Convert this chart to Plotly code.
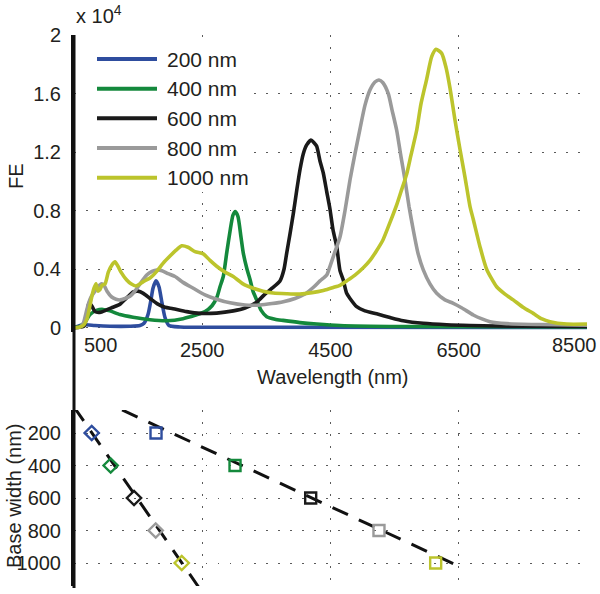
import plotly.graph_objects as go

# ---------------- data ----------------
series_names = ["200 nm", "400 nm", "600 nm", "800 nm", "1000 nm"]
series_colors = ["#2e4d9e", "#14893c", "#1a1a1a", "#9a9a9a", "#bcc42c"]

wl_200 = [500, 594, 687, 828, 1061, 1373, 1529, 1592, 1654, 1700, 1732, 1779, 1825, 1872, 1919, 1981, 2153, 3245, 8500]
fe_200 = [0, 150, 200, 150, 100, 100, 150, 300, 900, 1900, 2700, 3200, 2800, 1700, 700, 150, 50, 30, 20]

wl_400 = [500, 594, 672, 750, 859, 952, 1061, 1217, 1420, 1685, 1950, 2200, 2387, 2543, 2652, 2730, 2777, 2828, 2881,
          2933, 2979, 3015, 3057, 3104, 3140, 3198, 3245, 3291, 3349, 3416, 3505, 3634, 3759, 4024, 4285, 4648, 5584, 8500]
fe_400 = [0, 100, 400, 900, 1200, 1250, 1150, 900, 720, 550, 480, 620, 850, 1100, 1500, 2100, 2800, 3500, 5100,
          6600, 7700, 7950, 7600, 6200, 5100, 4000, 3300, 2500, 1900, 1200, 750, 580, 500, 350, 250, 150, 80, 50]

wl_600 = [500, 656, 703, 734, 776, 828, 905, 999, 1108, 1217, 1311, 1425, 1498, 1581, 1685, 1794, 1919, 2044, 2257, 2465,
          2725, 2984, 3167, 3349, 3478, 3588, 3712, 3775, 3817, 3868, 3920, 3977, 4024, 4076, 4129, 4196, 4243, 4285, 4336,
          4388, 4441, 4492, 4539, 4597, 4648, 4699, 4752, 4804, 4908, 5037, 5220, 5428, 5635, 5947, 6312, 6675, 7455, 8500]
fe_600 = [0, 100, 1000, 1700, 1500, 1100, 1050, 1200, 1400, 1600, 2000, 2450, 2500, 2350, 2000, 1650, 1400, 1300, 1100, 980,
          1000, 1150, 1350, 1750, 2300, 2700, 3200, 4000, 5100, 6400, 7800, 9500, 10800, 11900, 12500, 12830, 12650, 12400, 11400,
          10560, 9300, 8100, 6700, 5540, 3900, 3260, 2350, 2000, 1440, 1150, 950, 700, 480, 300, 200, 150, 100, 80]

wl_800 = [500, 594, 645, 687, 723, 765, 828, 874, 932, 968, 1015, 1088, 1155, 1217, 1295, 1373, 1451, 1529, 1634, 1716,
          1794, 1872, 1966, 2075, 2200, 2360, 2543, 2725, 2933, 3167, 3400, 3588, 3764, 3946, 4102, 4243, 4336, 4441, 4492,
          4570, 4648, 4726, 4804, 4882, 4960, 5037, 5115, 5193, 5256, 5318, 5401, 5459, 5532, 5599, 5662, 5724, 5791, 5864,
          5947, 6051, 6156, 6285, 6415, 6550, 6727, 6862, 6987, 7247, 7767, 8500]
fe_800 = [0, 50, 300, 1000, 1600, 2100, 2500, 2800, 3000, 2900, 2500, 2100, 1950, 1900, 2000, 2150, 2500, 3000, 3600, 3850,
          3950, 3900, 3700, 3500, 3100, 2700, 2250, 1950, 1700, 1550, 1550, 1650, 1780, 2000, 2300, 2800, 3200, 3600, 4200,
          5200, 6200, 8000, 10100, 11900, 13600, 15200, 16250, 16800, 16940, 16750, 16000, 14900, 13500, 11700, 10100, 8300,
          6680, 5100, 3950, 3000, 2350, 1900, 1670, 1350, 870, 600, 410, 280, 220, 180]

wl_1000 = [500, 594, 656, 703, 734, 776, 812, 843, 874, 905, 937, 984, 1035, 1093, 1139, 1186, 1233, 1322, 1389, 1467,
           1581, 1685, 1790, 1888, 1997, 2091, 2179, 2278, 2387, 2516, 2621, 2725, 2855, 2984, 3135, 3296, 3447, 3608, 3817,
           4024, 4211, 4388, 4543, 4648, 4752, 4882, 5011, 5116, 5209, 5318, 5428, 5532, 5599, 5688, 5755, 5844, 5911, 6000,
           6078, 6145, 6234, 6301, 6363, 6441, 6519, 6597, 6675, 6727, 6831, 6935, 7091, 7221, 7350, 7502, 7662, 7798, 7923,
           8183, 8500]
fe_1000 = [0, 50, 200, 600, 1200, 2100, 2700, 3000, 2500, 2600, 2900, 3000, 3800, 4300, 4500, 4200, 3800, 3260, 3000, 2850,
           3150, 3400, 3850, 4400, 4900, 5300, 5600, 5500, 5200, 5050, 4600, 4200, 3800, 3500, 3000, 2700, 2500, 2370, 2320,
           2300, 2400, 2550, 2750, 2900, 3200, 3600, 4100, 4600, 5200, 6000, 7200, 8400, 9300, 10500, 11800, 13500, 15300, 17000,
           18530, 19040, 18760, 17800, 16400, 14200, 12200, 10300, 8300, 7400, 5540, 4000, 2800, 2300, 1900, 1400, 980, 600, 410,
           250, 250]

spectra_wl = [wl_200, wl_400, wl_600, wl_800, wl_1000]
spectra_fe = [fe_200, fe_400, fe_600, fe_800, fe_1000]

base_width = [200, 400, 600, 800, 1000]
diamond_wl = [776, 1072, 1436, 1774, 2180]
square_wl = [1779, 3011, 4191, 5256, 6140]

fit_diamond_wl = [500, 2440]
fit_diamond_bw = [40, 1146]
fit_square_wl = [1250, 6520]
fit_square_bw = [58, 1023]

fe_tickvals = [0, 4000, 8000, 12000, 16000, 20000]
fe_ticktext = ["0", "0.4", "0.8", "1.2", "1.6", "2"]
wl_tickvals = [2500, 4500, 6500]
wl_ticktext = ["2500", "4500", "6500"]
bw_tickvals = [200, 400, 600, 800, 1000]

# ---------------- layout helpers (pixel -> paper) ----------------
W, H = 600, 594
def PX(px):
    return px / W
def PY(py):
    return 1 - py / H

FONT = "Arial, Liberation Sans, Helvetica, sans-serif"
TXT = "#231f20"
GRID = "#5a5a5a"

fig = go.Figure()

for name, col, wl, fe in zip(series_names, series_colors, spectra_wl, spectra_fe):
    fig.add_trace(go.Scatter(x=wl, y=fe, mode="lines", name=name,
                             line=dict(color=col, width=3.6, shape="spline", smoothing=0.6),
                             xaxis="x", yaxis="y", showlegend=False))

# fit lines
for fx, fy in [(fit_diamond_wl, fit_diamond_bw), (fit_square_wl, fit_square_bw)]:
    fig.add_trace(go.Scatter(x=fx, y=fy, mode="lines", line=dict(color="#111", width=3, dash="17px,12px"),
                             xaxis="x2", yaxis="y2", showlegend=False))

fig.add_trace(go.Scatter(x=diamond_wl, y=base_width, mode="markers", xaxis="x2", yaxis="y2", showlegend=False,
                         marker=dict(symbol="diamond-open", size=11, color=series_colors, line=dict(width=2.4, color=series_colors))))
fig.add_trace(go.Scatter(x=square_wl, y=base_width, mode="markers", xaxis="x2", yaxis="y2", showlegend=False,
                         marker=dict(symbol="square-open", size=11, color=series_colors, line=dict(width=2.4, color=series_colors))))

xdom = [PX(74), PX(587)]
top_dom = [PY(332.1), PY(35.2)]
bot_dom = [PY(586), PY(410)]

axis_common = dict(zeroline=False, ticks="", griddash="1.5px,10.5px", gridcolor=GRID, gridwidth=1.2,
                   tickfont=dict(family=FONT, size=20, color=TXT))

fig.update_layout(
    width=W, height=H, margin=dict(l=0, r=0, t=0, b=0, autoexpand=False),
    paper_bgcolor="white", plot_bgcolor="white", showlegend=False,
    xaxis=dict(domain=xdom, range=[500, 8500], anchor="y", tickmode="array", tickvals=wl_tickvals,
               ticktext=wl_ticktext, showgrid=True, showline=False, ticklabelstandoff=4, **axis_common),
    yaxis=dict(domain=top_dom, range=[-300, 20000], anchor="x", tickmode="array", tickvals=fe_tickvals,
               ticktext=fe_ticktext, showgrid=True, showline=True, linecolor="#111", linewidth=3,
               ticklabelstandoff=6, **axis_common),
    xaxis2=dict(domain=xdom, range=[500, 8500], anchor="y2", tickmode="array", tickvals=wl_tickvals,
                showticklabels=False, showgrid=True, showline=False, **axis_common),
    yaxis2=dict(domain=bot_dom, range=[1141.5, 58.5], anchor="x2", tickmode="array", tickvals=bw_tickvals,
                showgrid=True, showline=True, linecolor="#111", linewidth=3, ticklabelstandoff=6, **axis_common),
)

shapes = []
# left axis line spanning both panels (joins the two panels)
shapes.append(dict(type="line", xref="paper", yref="paper", x0=PX(74), x1=PX(74), y0=PY(35), y1=PY(588),
                   line=dict(color="#111", width=3), layer="above"))
# legend background and samples
shapes.append(dict(type="rect", xref="paper", yref="paper", x0=PX(78), x1=PX(250), y0=PY(192), y1=PY(42),
                   fillcolor="white", line=dict(width=0), layer="above"))
leg_y = [59, 88.7, 118.3, 148, 177.7]
annotations = []
for name, col, ly in zip(series_names, series_colors, leg_y):
    shapes.append(dict(type="line", xref="paper", yref="paper", x0=PX(97), x1=PX(157), y0=PY(ly), y1=PY(ly),
                       line=dict(color=col, width=4), layer="above"))
    annotations.append(dict(xref="paper", yref="paper", x=PX(165), y=PY(ly), text=name, showarrow=False,
                            xanchor="left", yanchor="middle", font=dict(family=FONT, size=21, color=TXT)))

annotations += [
    dict(xref="paper", yref="paper", x=PX(74), y=PY(14), text="x 10<sup>4</sup>", showarrow=False,
         xanchor="left", yanchor="middle", font=dict(family=FONT, size=20, color=TXT)),
    dict(xref="paper", yref="paper", x=PX(16), y=PY(176), text="FE", textangle=-90, showarrow=False,
         xanchor="center", yanchor="middle", font=dict(family=FONT, size=20, color=TXT)),
    dict(xref="paper", yref="paper", x=PX(14), y=PY(496), text="Base width (nm)", textangle=-90, showarrow=False,
         xanchor="center", yanchor="middle", font=dict(family=FONT, size=20, color=TXT)),
    dict(xref="paper", yref="paper", x=PX(333), y=PY(377), text="Wavelength (nm)", showarrow=False,
         xanchor="center", yanchor="middle", font=dict(family=FONT, size=20, color=TXT)),
    dict(xref="x", yref="paper", x=500, y=PY(345), text="500", showarrow=False, xshift=26,
         xanchor="center", yanchor="middle", font=dict(family=FONT, size=20, color=TXT)),
    dict(xref="x", yref="paper", x=8500, y=PY(345), text="8500", showarrow=False, xshift=-13,
         xanchor="center", yanchor="middle", font=dict(family=FONT, size=20, color=TXT)),
]

fig.update_layout(shapes=shapes, annotations=annotations)
fig.write_html("out.html", config={"displayModeBar": False},
               post_script="document.body.style.margin='0px';document.body.style.overflow='hidden';")
